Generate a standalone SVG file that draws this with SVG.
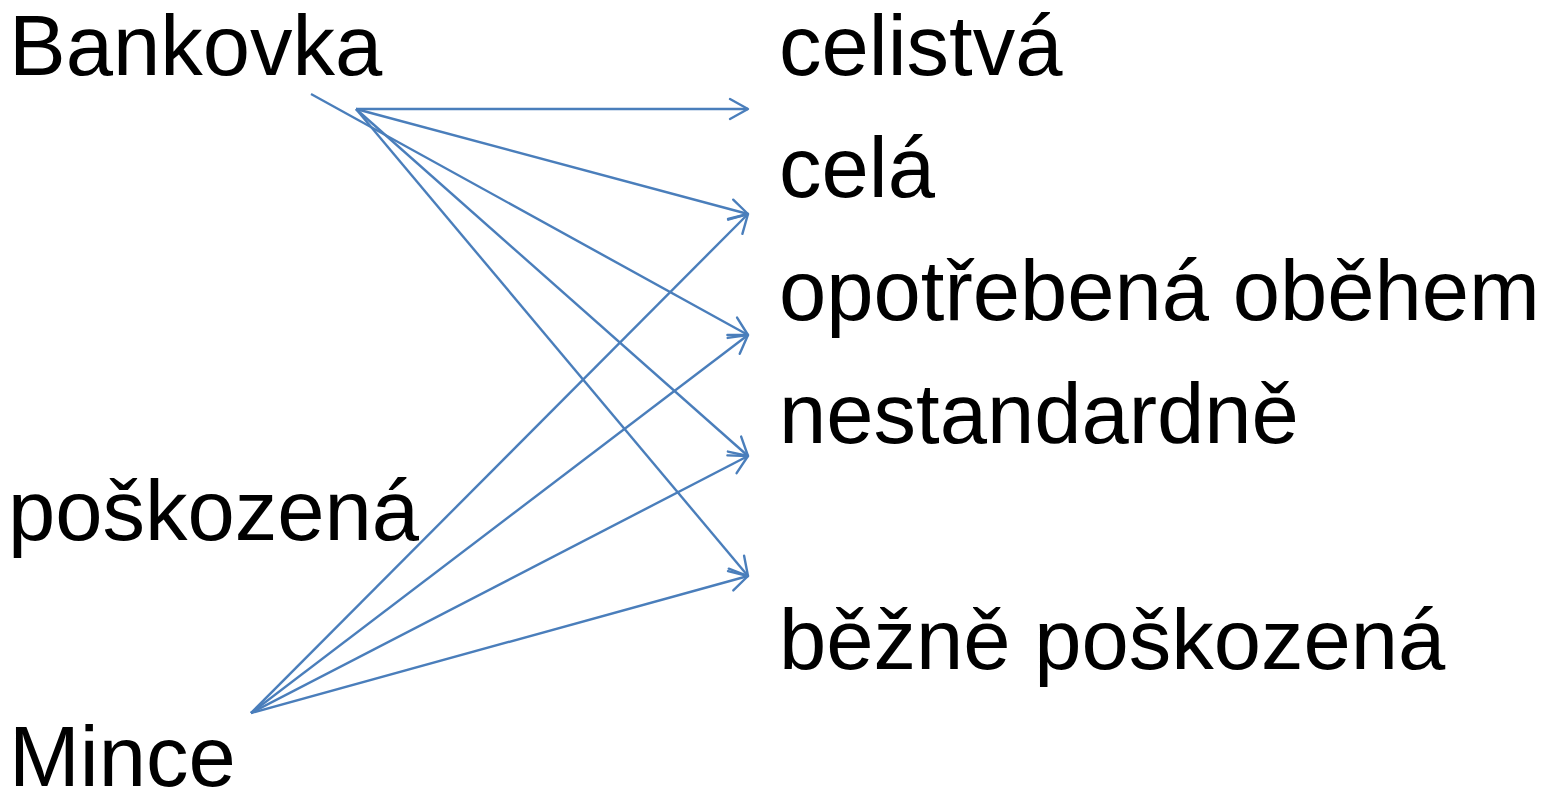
<svg xmlns="http://www.w3.org/2000/svg" width="1542" height="794" viewBox="0 0 1542 794">
  <style>
    .lbl { font-family: "Liberation Sans", Arial, sans-serif; font-size: 85px; fill: #000; }
    .conn { stroke: #4a7ebb; stroke-width: 2.4; fill: none; marker-end: url(#arr); }
  </style>
  <defs>
    <marker id="arr" viewBox="-22 -13 25 26" refX="0" refY="0" markerWidth="25" markerHeight="26" markerUnits="userSpaceOnUse" orient="auto">
      <path d="M -18,-10 L 0,0 L -18,10" fill="none" stroke="#4a7ebb" stroke-width="2.4" stroke-linecap="round" stroke-linejoin="round"/>
    </marker>
  </defs>
  <rect width="1542" height="794" fill="#fff"/>
  <g id="connectors">
    <line class="conn" x1="356" y1="109" x2="748" y2="109"/>
    <line class="conn" x1="356" y1="109" x2="748" y2="214"/>
    <line class="conn" x1="311" y1="94" x2="748" y2="335"/>
    <line class="conn" x1="356" y1="109" x2="748" y2="456"/>
    <line class="conn" x1="356" y1="109" x2="748" y2="576"/>
    <line class="conn" x1="251" y1="713" x2="748" y2="214"/>
    <line class="conn" x1="251" y1="713" x2="748" y2="335"/>
    <line class="conn" x1="251" y1="713" x2="748" y2="456"/>
    <line class="conn" x1="251" y1="713" x2="748" y2="576"/>
  </g>
  <g id="bankovka"><text class="lbl" x="9" y="75">Bankovka</text></g>
  <g id="poskozena"><text class="lbl" x="8" y="540">poškozená</text></g>
  <g id="mince"><text class="lbl" x="9" y="786">Mince</text></g>
  <g id="celistva"><text class="lbl" x="779" y="75">celistvá</text></g>
  <g id="cela"><text class="lbl" x="779" y="197">celá</text></g>
  <g id="opotrebena"><text class="lbl" x="779" y="320">opotřebená oběhem</text></g>
  <g id="nestandardne"><text class="lbl" x="779" y="443">nestandardně</text></g>
  <g id="bezne"><text class="lbl" x="779" y="669">běžně poškozená</text></g>
</svg>
